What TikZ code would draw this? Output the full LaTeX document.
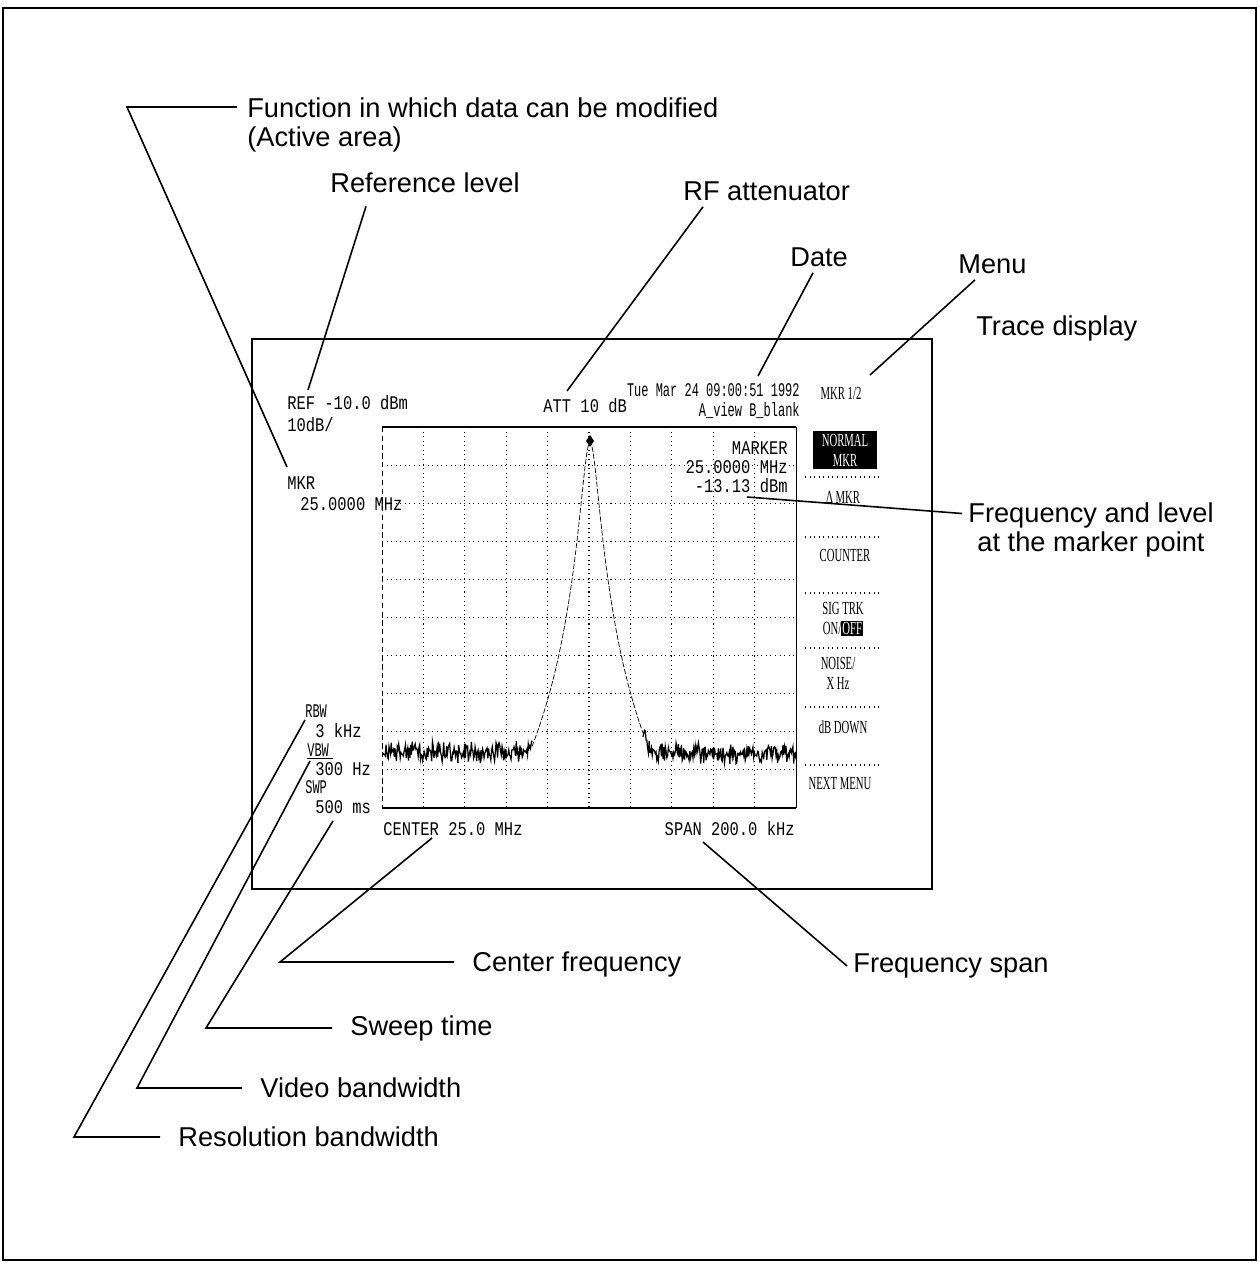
\documentclass[tikz,border=0pt]{standalone}
\usepackage{fontspec}
\setmainfont{Liberation Sans}
\newfontfamily\scrfont[FakeStretch=0.8]{Liberation Mono}
\newfontfamily\hdrfont[FakeStretch=0.62]{Liberation Mono}
\newfontfamily\menufont[FakeStretch=0.58]{Liberation Serif}
\usetikzlibrary{calc,positioning}

\tikzset{
  lbl/.style={font=\fontsize{15.5}{17}\selectfont, inner sep=1.2mm},
  leader/.style={line width=0.9pt},
  scr/.style={font=\scrfont\fontsize{11}{12}\selectfont, inner sep=0},
  hdr/.style={font=\hdrfont\fontsize{11}{12}\selectfont, inner sep=0},
  menu/.style={font=\menufont\fontsize{10.5}{11.5}\selectfont, inner sep=0, align=center},
  gridline/.style={dotted, line width=0.6pt},
  trace/.style={line width=0.7pt},
}

\begin{document}
\begin{tikzpicture}[x=0.2mm,y=-0.2mm]
  \useasboundingbox (0,0) rectangle (1259,1263);
  \draw[line width=1.2pt] (3,8) rectangle (1256,1260);

  % screen and graticule
  \draw[line width=1.2pt] (252,339) rectangle (932,889);
  \foreach \i in {1,...,9} {
    \draw[gridline] ({382+41.4*\i},427) -- ({382+41.4*\i},808);
    \draw[gridline] (382,{427+38.1*\i}) -- (796,{427+38.1*\i});
  }
  \draw[line width=1pt] (382,427) -- (796,427);
  \draw[line width=1pt] (382,808) -- (796,808);
  \draw[densely dashed, thin] (382,427) -- (382,808);
  \draw[thin] (796,427) -- (796,808);

  % trace
  \pgfmathsetseed{42}
  \draw[trace] plot[domain=383:532, samples=200]
    (\x, {min(752,442+76.5*ln(1+((\x-590)/8)*((\x-590)/8)))+7*rand+5*rand});
  \draw[thin, dash pattern=on 3pt off 1pt] plot[domain=532:643, samples=120]
    (\x, {442+76.5*ln(1+((\x-590)/8)*((\x-590)/8))});
  \draw[trace] plot[domain=643:796, samples=200]
    (\x, {min(753,442+76.5*ln(1+((\x-590)/8)*((\x-590)/8)))+7*rand+5*rand});
  \fill (590,435) -- (594,441) -- (590,447) -- (586,441) -- cycle;

  % screen readouts
  \node[scr, anchor=west] (reftxt) at (287,403) {REF -10.0 dBm};
  \node[scr, anchor=west] (scaletxt) at (287,425) {10dB/};
  \node[scr, anchor=west] (mkrtxt) at (287,483) {MKR};
  \node[scr, anchor=west] (mkrfreq) at (300,504) {25.0000 MHz};
  \node[scr, anchor=west] (atttxt) at (543,406) {ATT 10 dB};
  \node[hdr, anchor=east] (datetxt) at (800,390) {Tue Mar 24 09:00:51 1992};
  \node[hdr, anchor=east] (viewtxt) at (800,411) {A\_view B\_blank};
  \node[scr, anchor=east] (mkrhead) at (788,448) {MARKER};
  \node[scr, anchor=east] (mkrval) at (788,467) {25.0000 MHz};
  \node[scr, anchor=east] (mkrlvl) at (788,486) {-13.13 dBm};
  \node[hdr, anchor=west] (rbwtxt) at (305,711) {RBW};
  \node[scr, anchor=west] (rbwval) at (315,731) {3 kHz};
  \node[hdr, anchor=west] (vbwtxt) at (307,750) {VBW};
  \draw[thin] (307,758) -- (333,758);
  \node[scr, anchor=west] (vbwval) at (315,769) {300 Hz};
  \node[hdr, anchor=west] (swptxt) at (305,787) {SWP};
  \node[scr, anchor=west] (swpval) at (315,807) {500 ms};
  \node[scr, anchor=west] (cftxt) at (383,829) {CENTER 25.0 MHz};
  \node[scr, anchor=east] (spantxt) at (795,829) {SPAN 200.0 kHz};

  % soft key menu
  \node[menu] (menuhead) at (841,393) {MKR 1/2};
  \node[menu, fill=black, text=white, minimum width=12.8mm, minimum height=7.6mm] (normmkr) at (845,450) {NORMAL\\MKR};
  \node[menu] (deltamkr) at (843,497) {Δ MKR};
  \node[menu] (counter) at (845,555) {COUNTER};
  \node[menu] (sigtrk) at (843,619) {SIG TRK\\ON/{\setlength\fboxsep{0.6pt}\colorbox{black}{\color{white}OFF}}};
  \node[menu] (noisehz) at (838,673) {NOISE/\\X Hz};
  \node[menu] (dbdown) at (843,727) {dB DOWN};
  \node[menu] (nextmenu) at (840,784) {NEXT MENU};
  \foreach \y in {477,537,593,648,707,765}
    \draw[gridline] (805,\y) -- (880,\y);

  % annotations
  \node[lbl, anchor=west, align=left] (fnlbl) at (241,125) {Function in which data can be modified\\(Active area)};
  \node[lbl, anchor=west] (reflbl) at (324,183) {Reference level};
  \node[lbl, anchor=west] (rflbl) at (677,191) {RF attenuator};
  \node[lbl, anchor=west] (datelbl) at (784,257) {Date};
  \node[lbl, anchor=west] (menulbl) at (952,264) {Menu};
  \node[lbl, anchor=west] (tracelbl) at (970,328) {Trace display};
  \node[lbl, align=center] (freqlbl) at (1091,530) {Frequency and level\\at the marker point};
  \node[lbl, anchor=west] (cflbl) at (466,964) {Center frequency};
  \node[lbl, anchor=west] (spanlbl) at (847,966) {Frequency span};
  \node[lbl, anchor=west] (swplbl) at (344,1028) {Sweep time};
  \node[lbl, anchor=west] (vbwlbl) at (254,1088) {Video bandwidth};
  \node[lbl, anchor=west] (rbwlbl) at (172,1137) {Resolution bandwidth};

  % leader lines
  \coordinate (fnend) at (287,467);
  \coordinate (fnknee) at (127,107);
  \coordinate (refend) at (308,390);
  \coordinate (attend) at (567,391);
  \coordinate (dateend) at (758,376);
  \coordinate (menuend) at (870,375);
  \coordinate (fqend) at (747,497);
  \coordinate (cfend) at (432,838);
  \coordinate (cfknee) at (280,962);
  \coordinate (spanend) at (703,842);
  \coordinate (swpend) at (333,821);
  \coordinate (swpknee) at (206,1028);
  \coordinate (vbwend) at (310,761);
  \coordinate (vbwknee) at (137,1088);
  \coordinate (rbwend) at (305,720);
  \coordinate (rbwknee) at (74,1137);

  \draw[leader, shorten >=0.8mm] (fnend) -- (fnknee) -- (fnknee -| fnlbl.west);
  \draw[leader] (refend) -- ($(reflbl.south west)+(42,7)$);
  \draw[leader] (attend) -- ($(rflbl.south west)+(26,0)$);
  \draw[leader] (dateend) -- ($(datelbl.south west)+(29,0)$);
  \draw[leader] (menuend) -- ($(menulbl.south west)+(23,0)$);
  \draw[leader] (fqend) -- ([yshift=3.3mm]freqlbl.west);
  \draw[leader, shorten >=2.4mm] (cfend) -- (cfknee) -- (cfknee -| cflbl.west);
  \draw[leader] (spanend) -- (spanlbl.west);
  \draw[leader, shorten >=2.4mm] (swpend) -- (swpknee) -- (swplbl.west);
  \draw[leader, shorten >=2.4mm] (vbwend) -- (vbwknee) -- (vbwlbl.west);
  \draw[leader, shorten >=2.4mm] (rbwend) -- (rbwknee) -- (rbwlbl.west);
\end{tikzpicture}
\end{document}
